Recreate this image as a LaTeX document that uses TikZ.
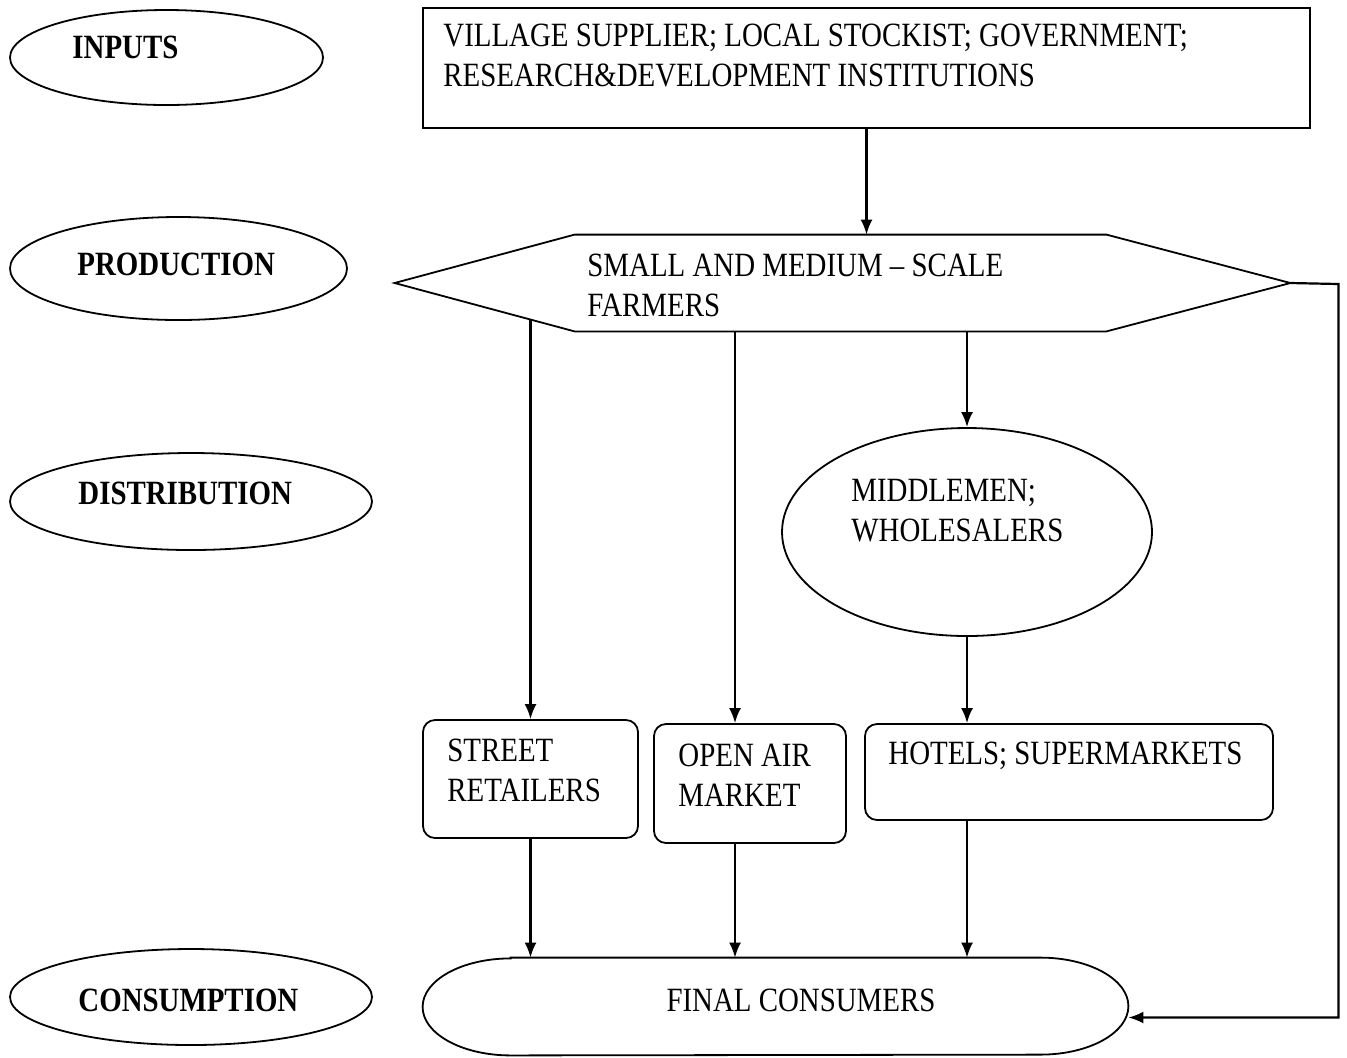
\documentclass[tikz,border=0pt]{standalone}
\usepackage{fontspec}
\setmainfont{Liberation Serif}[FakeStretch=0.85]
\usetikzlibrary{arrows.meta,calc,shapes.geometric}

\begin{document}
\begin{tikzpicture}[x=0.5pt,y=-0.5pt,
    txt/.style={font=\fontsize{17}{20}\selectfont,inner sep=0pt,align=left},
    stg/.style={txt,font=\fontsize{17}{20}\selectfont\bfseries,anchor=west},
    stage/.style={draw,ellipse,line width=0.9pt,inner sep=0pt},
    rbox/.style={draw,rectangle,rounded corners=6pt,line width=0.9pt,inner sep=0pt},
    arr/.style={-{Latex[length=7.5pt,width=6pt]},line width=1.1pt}]
\useasboundingbox (0,0) rectangle (1347,1057);

\node[stage,minimum width=156.5pt,minimum height=47.5pt] (inputs) at (166.5,57.5) {};
\node[stage,minimum width=168.5pt,minimum height=51.5pt] (production) at (178.5,268.5) {};
\node[stage,minimum width=181pt,minimum height=48.5pt] (distribution) at (191,501.5) {};
\node[stage,minimum width=181pt,minimum height=48pt] (consumption) at (191,997) {};
\node[stg] (inputsT) at (72,47) {INPUTS};
\node[stg] (productionT) at (77,264) {PRODUCTION};
\node[stg] (distributionT) at (78,493) {DISTRIBUTION};
\node[stg] (consumptionT) at (78,1000) {CONSUMPTION};

\node[draw,rectangle,line width=0.9pt,minimum width=443.5pt,minimum height=60pt] (supply) at (866.5,68) {};
\node[txt,anchor=north west] (supplyT) at (443,24) {VILLAGE SUPPLIER; LOCAL STOCKIST; GOVERNMENT;\\RESEARCH\&DEVELOPMENT INSTITUTIONS};

\node[minimum width=447.5pt,minimum height=48pt,inner sep=0pt] (farmers) at (842.5,283) {};
\draw[line width=0.9pt] (farmers.west) -- ([xshift=90pt]farmers.north west) -- ([xshift=-92pt]farmers.north east)
    -- (farmers.east) -- ([xshift=-92pt]farmers.south east) -- ([xshift=90pt]farmers.south west) -- cycle;
\node[txt,anchor=north west] (farmersT) at (587,254) {SMALL AND MEDIUM -- SCALE\\FARMERS};
\coordinate (slant) at ($(farmers.west)!0.75!([xshift=90pt]farmers.south west)$);

\node[stage,minimum width=185pt,minimum height=104pt] (middlemen) at (967,532) {};
\node[txt,anchor=north west] (middlemenT) at (851,479) {MIDDLEMEN;\\WHOLESALERS};

\node[rbox,minimum width=107.5pt,minimum height=59pt] (street) at (530.5,779) {};
\node[txt,anchor=north west] (streetT) at (447,739) {STREET\\RETAILERS};
\node[rbox,minimum width=96pt,minimum height=59.5pt] (open) at (750,783.5) {};
\node[txt,anchor=north west] (openT) at (678,744) {OPEN AIR\\MARKET};
\node[rbox,minimum width=204pt,minimum height=48pt] (hotels) at (1069,772) {};
\node[txt,anchor=west] (hotelsT) at (888,756) {HOTELS; SUPERMARKETS};

\node[minimum width=352.5pt,minimum height=48.5pt,inner sep=0pt] (final) at (775.5,1006.5) {};
\draw[line width=0.9pt] ([xshift=44pt]final.north west) -- ([xshift=-44pt]final.north east)
    arc[start angle=90,end angle=-90,x radius=44pt,y radius=24.25pt]
    -- ([xshift=44pt]final.south west)
    arc[start angle=270,end angle=90,x radius=44pt,y radius=24.25pt] -- cycle;
\node[txt] (finalT) at (801,1000) {FINAL CONSUMERS};

\draw[arr] (supply.south) -- (supply.south |- farmers.north);
\draw[arr] (street.north |- slant) -- (street.north);
\draw[arr] ([xshift=-7.5pt]open.north |- farmers.south) -- ([xshift=-7.5pt]open.north);
\draw[arr] (middlemen.north |- farmers.south) -- (middlemen.north);
\draw[arr] (middlemen.south) -- (middlemen.south |- hotels.north);
\draw[arr] (street.south) -- (street.south |- final.north);
\draw[arr] ([xshift=-7.5pt]open.south) -- ([xshift=-7.5pt]open.south |- final.north);
\draw[arr] (middlemen.south |- hotels.south) -- (middlemen.south |- final.north);
\draw[arr] (farmers.east) -- ++(48,1) |- ([yshift=-5.5pt]final.east);
\end{tikzpicture}
\end{document}
